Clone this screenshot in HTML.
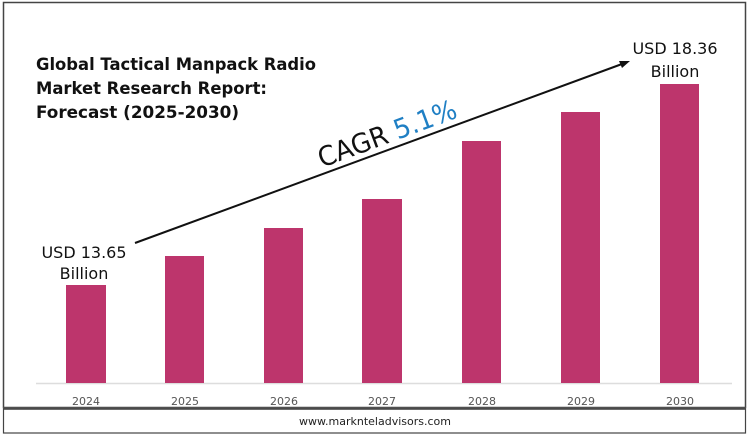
<!DOCTYPE html>
<html><head><meta charset="utf-8"><style>
html,body{margin:0;padding:0;background:#fff;}
svg{display:block;}
</style></head><body>
<svg width="750" height="436" viewBox="0 0 750 436" xmlns="http://www.w3.org/2000/svg" font-family="'DejaVu Sans','Liberation Sans',sans-serif">
<rect x="0" y="0" width="750" height="436" fill="#fff"/>
<rect x="3.5" y="2.5" width="742" height="405" fill="none" stroke="#444" stroke-width="1.5"/>
<line x1="3" y1="408.5" x2="746" y2="408.5" stroke="#555" stroke-width="2.5"/>
<rect x="3.5" y="409" width="742" height="24" fill="none" stroke="#444" stroke-width="1.2"/>
<text x="375" y="425" font-size="11" text-anchor="middle" fill="#222">www.marknteladvisors.com</text>

<g fill="#111" font-weight="bold" font-size="17">
<text x="36" y="70" textLength="280" lengthAdjust="spacingAndGlyphs">Global Tactical Manpack Radio</text>
<text x="36" y="94" textLength="231" lengthAdjust="spacingAndGlyphs">Market Research Report:</text>
<text x="36" y="118" textLength="203" lengthAdjust="spacingAndGlyphs">Forecast (2025-2030)</text>
</g>

<line x1="36" y1="383.5" x2="732" y2="383.5" stroke="#ddd" stroke-width="1.5"/>
<g fill="#bd356c">
<rect x="66" y="285" width="40" height="98"/>
<rect x="165" y="256" width="39" height="127"/>
<rect x="264" y="228" width="39" height="155"/>
<rect x="362" y="199" width="40" height="184"/>
<rect x="462" y="141" width="39" height="242"/>
<rect x="561" y="112" width="39" height="271"/>
<rect x="660" y="84" width="39" height="299"/>
</g>
<g font-size="11" fill="#555" text-anchor="middle">
<text x="86" y="405">2024</text>
<text x="185" y="405">2025</text>
<text x="284" y="405">2026</text>
<text x="382" y="405">2027</text>
<text x="482" y="405">2028</text>
<text x="581" y="405">2029</text>
<text x="680" y="405">2030</text>
</g>

<line x1="135" y1="243" x2="622" y2="64" stroke="#111" stroke-width="2"/>
<polygon points="630,61 619,61 622,68" fill="#111"/>

<g font-size="16" fill="#111" text-anchor="middle">
<text x="84" y="258">USD 13.65</text>
<text x="84" y="279">Billion</text>
<text x="675" y="54">USD 18.36</text>
<text x="675" y="77">Billion</text>
</g>

<g transform="translate(387,133) rotate(-20.3)">
<text x="0" y="10" font-size="27" text-anchor="middle" fill="#111" font-weight="500" textLength="146" lengthAdjust="spacingAndGlyphs"><tspan>CAGR </tspan><tspan fill="#1f7fc4">5.1%</tspan></text>
</g>
</svg>
</body></html>
